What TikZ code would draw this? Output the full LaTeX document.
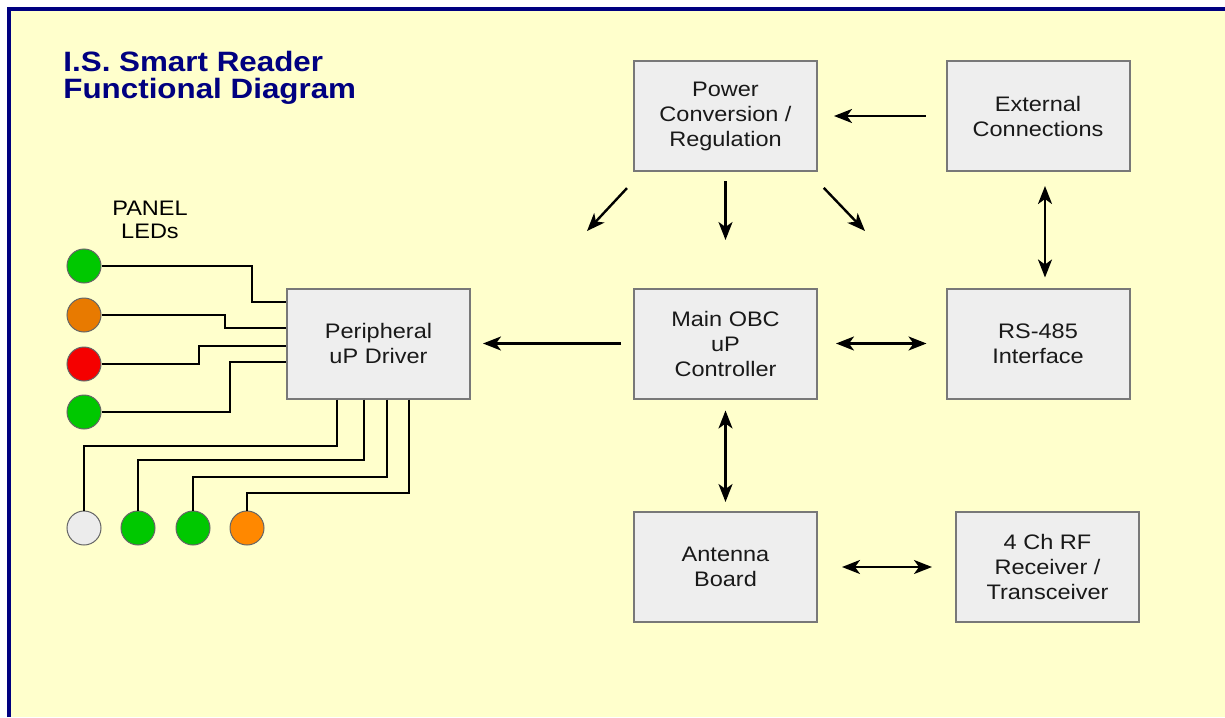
\documentclass[tikz,border=0pt]{standalone}
\usepackage{fontspec}
\setmainfont{Liberation Sans}[FakeStretch=1.12]
\usetikzlibrary{arrows.meta}

\definecolor{bgyellow}{RGB}{255,255,204}
\definecolor{framenavy}{RGB}{0,0,128}
\definecolor{blockfill}{RGB}{238,238,238}
\definecolor{blockline}{RGB}{120,120,120}
\definecolor{ledgreen}{RGB}{0,200,0}
\definecolor{ledamber}{RGB}{232,122,0}
\definecolor{ledred}{RGB}{245,0,0}
\definecolor{ledwhite}{RGB}{236,236,236}
\definecolor{ledorange}{RGB}{255,136,0}

\begin{document}
\begin{tikzpicture}[
    x=0.5pt, y=-0.5pt,
    block/.style={rectangle, draw=blockline, line width=1pt, fill=blockfill, minimum width=91.5pt, minimum height=55pt, align=center, text=black!90, font=\fontsize{10.5}{12.5}\selectfont},
    led/.style={circle, draw=black!60, line width=0.5pt, minimum size=17pt, inner sep=0pt},
    wire/.style={line width=1pt},
    link/.style={-{Stealth[length=9pt, width=7pt, inset=2.5pt]}, line width=1.2pt},
    dlink/.style={{Stealth[length=9pt, width=7pt, inset=2.5pt]}-{Stealth[length=9pt, width=7pt, inset=2.5pt]}, line width=1.2pt}
]
\useasboundingbox (0,0) rectangle (1225,717);

% Background and frame
\fill[white] (0,0) rectangle (1225,717);
\fill[bgyellow] (9,9) rectangle (1225,717);
\draw[framenavy, line width=2pt] (9,717) -- (9,9) -- (1225,9);

% Title
\node[anchor=north west, inner sep=0pt, align=left, text=framenavy, font=\fontsize{14}{13.5}\selectfont\bfseries] (title) at (63,51) {I.S. Smart Reader\\Functional Diagram};

% Function blocks
\node[block] (power) at (725.5,116) {Power\\Conversion /\\Regulation};
\node[block] (ext) at (1038,116) {External\\Connections};
\node[block] (periph) at (378.5,343.5) {Peripheral\\uP Driver};
\node[block] (main) at (725.5,343.5) {Main OBC\\uP\\Controller};
\node[block] (rs) at (1038,343.5) {RS-485\\Interface};
\node[block] (ant) at (725.5,567) {Antenna\\Board};
\node[block] (rf) at (1047.5,567) {4 Ch RF\\Receiver /\\Transceiver};

% Panel LEDs
\node[align=center, font=\fontsize{10.5}{11.5}\selectfont] (panel) at (150,220) {PANEL\\LEDs};
\node[led, fill=ledgreen] (led1) at (84,266) {};
\node[led, fill=ledamber] (led2) at (84,315) {};
\node[led, fill=ledred] (led3) at (84,364) {};
\node[led, fill=ledgreen] (led4) at (84,412) {};
\node[led, fill=ledwhite] (led5) at (84,528) {};
\node[led, fill=ledgreen] (led6) at (138,528) {};
\node[led, fill=ledgreen] (led7) at (193,528) {};
\node[led, fill=ledorange] (led8) at (247,528) {};

% LED wiring, left side
\draw[wire] (led1.east) -| (252,302) -- (periph.west |- 252,302);
\draw[wire] (led2.east) -| (225,328) -- (periph.west |- 225,328);
\draw[wire] (led3.east) -| (199,346) -- (periph.west |- 199,346);
\draw[wire] (led4.east) -| (230,362) -- (periph.west |- 230,362);

% LED wiring, bottom
\draw[wire] (periph.south -| 337,0) -- (337,446) -| (led5.north);
\draw[wire] (periph.south -| 364,0) -- (364,460) -| (led6.north);
\draw[wire] (periph.south -| 387,0) -- (387,477) -| (led7.north);
\draw[wire] (periph.south -| 409,0) -- (409,493) -| (led8.north);

% Power feeds
\coordinate (feedL) at (587,231);
\coordinate (feedC) at (725.5,240);
\coordinate (feedR) at (865,231);
\draw[link, shorten <=11pt] ([xshift=4.5pt]power.south west) -- (feedL);
\draw[link, shorten <=4.5pt] (power.south) -- (feedC);
\draw[link, shorten <=11pt] ([xshift=-4.7pt]power.south east) -- (feedR);

% Links between blocks
\draw[link, shorten <=10pt, shorten >=8pt] (ext) -- (power);
\draw[dlink, shorten <=7pt, shorten >=5pt] ([xshift=3.5pt]ext.south) -- ([xshift=3.5pt]rs.north);
\draw[link, shorten <=6pt, shorten >=6pt] (main) -- (periph);
\draw[dlink, shorten <=9pt, shorten >=9.5pt] (main) -- (rs);
\draw[dlink, shorten <=5.5pt, shorten >=4.5pt] (main) -- (ant);
\draw[dlink, shorten <=12pt, shorten >=11.5pt] (ant) -- (rf);
\end{tikzpicture}
\end{document}
